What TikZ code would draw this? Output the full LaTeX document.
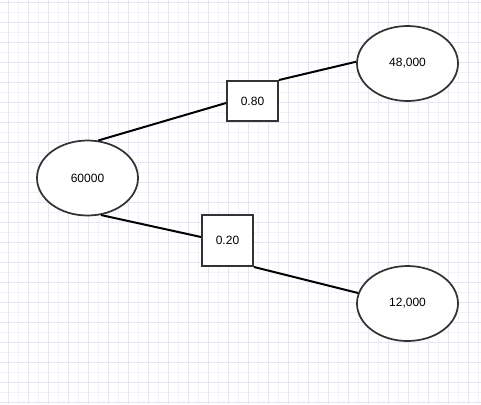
\documentclass[tikz,border=0pt]{standalone}
\usepackage{fontspec}
\setmainfont{Liberation Sans}
\usetikzlibrary{shapes.geometric,calc}
\definecolor{gmajor}{RGB}{228,228,248}
\definecolor{gminor}{RGB}{241,241,251}
\definecolor{edge}{RGB}{51,51,51}
\begin{document}
\begin{tikzpicture}[x=0.75pt,y=-0.75pt,
  oval/.style={ellipse,draw=edge,line width=1.3pt,fill=white,minimum width=75.75pt,minimum height=56.25pt,inner sep=0pt,font=\fontsize{9}{11}\selectfont},
  probbox/.style={rectangle,draw=edge,line width=1.5pt,fill=white,inner sep=0pt,font=\fontsize{9}{11}\selectfont},
  link/.style={draw=black,line width=1.5pt}]
\useasboundingbox (0,0) rectangle (481,404);
\fill[white] (0,0) rectangle (481,404);
\foreach \x in {18,38,...,478} \draw[gminor,line width=0.75pt] (\x,0) -- (\x,404);
\foreach \y in {12,32,...,402} \draw[gminor,line width=0.75pt] (0,\y) -- (481,\y);
\foreach \x in {8,28,...,478} \draw[gmajor,line width=0.75pt] (\x,0) -- (\x,404);
\foreach \y in {2,22,...,402} \draw[gmajor,line width=0.75pt] (0,\y) -- (481,\y);
\node[oval] (root) at (87.5,178) {60000};
\node[oval] (hi) at (407.5,63.5) {48,000};
\node[oval] (lo) at (407.5,303.5) {12,000};
\node[probbox,minimum width=38.25pt,minimum height=30pt] (p1) at (252.5,101) {0.80};
\node[probbox,minimum width=38.25pt,minimum height=38.25pt] (p2) at (227.5,240.5) {0.20};
\draw[link] (root.74) -- ($(p1.west)+(0,2)$);
\draw[link] (p1.north east) -- (hi.178);
\draw[link] (root.-70) -- ($(p2.west)+(0,-3.5)$);
\draw[link] (p2.south east) -- (lo.168);
\end{tikzpicture}
\end{document}
